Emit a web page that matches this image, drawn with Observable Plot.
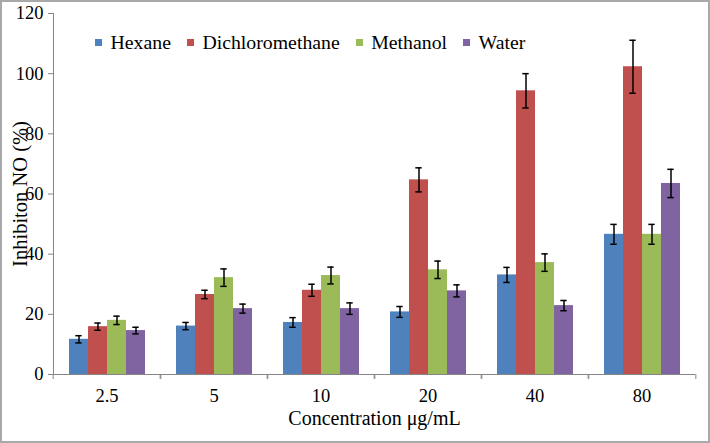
<!DOCTYPE html>
<html>
<head>
<meta charset="utf-8">
<script src="https://cdn.jsdelivr.net/npm/d3@7"></script>
<script src="https://cdn.jsdelivr.net/npm/@observablehq/plot@0.6"></script>
<style>
  html, body { margin: 0; padding: 0; background: white; }
  #wrap { position: relative; width: 710px; height: 443px; }
  #legend { position: absolute; left: 95px; top: 31px; display: flex; align-items: center;
    font-family: "Liberation Serif", "Times New Roman", Times, "DejaVu Serif", serif; font-size: 19.8px; line-height: 22px; color: black; }
  #legend .item { display: flex; align-items: center; margin-right: 16px; }
  #legend .sw { width: 7px; height: 7px; margin-right: 8.5px; }
</style>
</head>
<body>
<div id="wrap"><div id="legend"></div></div>
<script>
const concentrations = ["2.5", "5", "10", "20", "40", "80"];
const series = ["Hexane", "Dichloromethane", "Methanol", "Water"];
const hexane = [11.7, 16.1, 17.3, 20.8, 33.1, 46.6];
const hexaneErr = [1.2, 1.2, 1.6, 1.8, 2.5, 3.3];
const dichloromethane = [15.9, 26.6, 28.0, 64.7, 94.3, 102.3];
const dichloromethaneErr = [1.2, 1.4, 2.0, 4.0, 5.7, 8.8];
const methanol = [18.0, 32.2, 32.9, 34.8, 37.2, 46.6];
const methanolErr = [1.4, 2.9, 2.8, 2.9, 2.9, 3.3];
const water = [14.6, 21.9, 21.9, 27.8, 22.9, 63.5];
const waterErr = [1.1, 1.5, 1.9, 2.0, 1.7, 4.7];
const colors = ["#4F81BD", "#C0504D", "#9BBB59", "#8064A2"];
const yTicks = [0, 20, 40, 60, 80, 100, 120];
const xTitle = "Concentration μg/mL";
const yTitle = "Inhibiton NO (%)";

const values = [hexane, dichloromethane, methanol, water];
const errors = [hexaneErr, dichloromethaneErr, methanolErr, waterErr];
const rows = [];
concentrations.forEach((c, i) => series.forEach((s, j) =>
  rows.push({conc: c, series: s, value: values[j][i], err: errors[j][i]})));

const gray = "#868686";
const serif = "'Liberation Serif', 'Times New Roman', Times, 'DejaVu Serif', serif";
const W = 710, ML = 51, MR = 13;
const half = (W - ML - MR) / concentrations.length / 2;

const chart = Plot.plot({
  width: W, height: 443,
  marginLeft: ML, marginRight: MR, marginTop: 13, marginBottom: 69,
  style: {fontFamily: serif, fontSize: "20px", color: "black", background: "transparent",
          outline: "2px solid #a9a9a9", outlineOffset: "-2px"},
  fx: {domain: concentrations, padding: 0},
  x: {domain: series, paddingInner: 0, paddingOuter: 0.766, axis: null},
  y: {domain: [0, 120]},
  color: {domain: series, range: colors},
  marks: [
    Plot.barY(rows, {fx: "conc", x: "series", y: "value", fill: "series", inset: 0}),
    Plot.ruleX(rows, {fx: "conc", x: "series", y1: d => d.value - d.err, y2: d => d.value + d.err, stroke: "black", strokeWidth: 1.5}),
    Plot.tickY(rows, {fx: "conc", x: "series", y: d => d.value + d.err, stroke: "black", strokeWidth: 1.5, insetLeft: 6.3, insetRight: 6.3}),
    Plot.tickY(rows, {fx: "conc", x: "series", y: d => d.value - d.err, stroke: "black", strokeWidth: 1.5, insetLeft: 6.3, insetRight: 6.3}),
    Plot.ruleY([0], {stroke: gray}),
    Plot.frame({anchor: "left", stroke: gray, facetAnchor: "left"}),
    Plot.axisY(yTicks, {tickSize: 5, stroke: gray, fill: "black", tickPadding: 5, fontSize: 18.5, label: null}),
    Plot.axisY({tickSize: 0, fill: "black", ticks: [], fontSize: 20.5, label: yTitle, labelAnchor: "center", labelOffset: 41, labelArrow: "none"}),
    Plot.axisFx({anchor: "bottom", tickSize: 0, fill: "black", tickPadding: 14, fontSize: 18.5, label: null}),
    Plot.axisFx([], {anchor: "bottom", tickSize: 0, fill: "black", fontSize: 20, label: xTitle, labelAnchor: "center", labelOffset: 50, labelArrow: "none"}),
    Plot.axisFx({anchor: "bottom", tickSize: 5, stroke: gray, fill: "none", dx: -half, label: null}),
    Plot.axisFx(["80"], {anchor: "bottom", tickSize: 5, stroke: gray, fill: "none", dx: half, label: null})
  ]
});
document.getElementById("wrap").appendChild(chart);

const legend = document.getElementById("legend");
series.forEach((s, i) => {
  const item = document.createElement("div");
  item.className = "item";
  const sw = document.createElement("div");
  sw.className = "sw";
  sw.style.background = colors[i];
  const t = document.createElement("span");
  t.textContent = s;
  item.appendChild(sw); item.appendChild(t);
  legend.appendChild(item);
});
</script>
</body>
</html>
